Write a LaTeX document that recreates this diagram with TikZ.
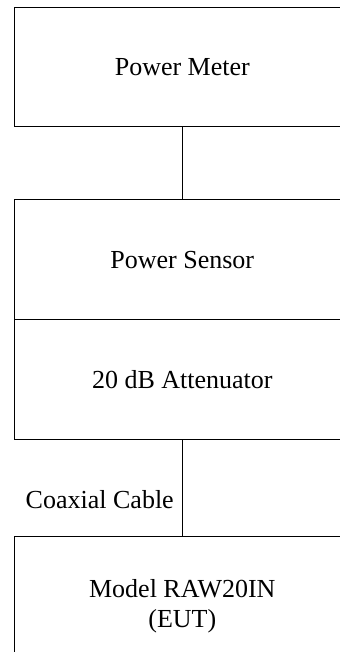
\documentclass[tikz,border=0pt]{standalone}
\usepackage{fontspec}
\setmainfont{Liberation Serif}

\begin{document}
\begin{tikzpicture}[x=1bp, y=-1bp,
    unit/.style={draw, line width=1.1bp, anchor=north west, minimum width=335.5bp,
                 inner sep=0pt, align=center, font=\fontsize{26bp}{30bp}\selectfont},
    cable/.style={line width=1.1bp},
    tag/.style={anchor=east, inner sep=0pt, font=\fontsize{26bp}{30bp}\selectfont}]
  \useasboundingbox (0,0) rectangle (339,652);

  % the measurement chain, from top to bottom; boxes run past the right and lower edge
  \node[unit, minimum height=119bp] (meter) at (14,7) {Power Meter};
  \node[unit, minimum height=120bp] (sensor) at (14,199.3) {Power Sensor};
  \node[unit, minimum height=120bp] (atten) at (14,319.3) {20 dB Attenuator};
  \node[unit, minimum height=140bp] (eut) at (14,535.7) {Model RAW20IN\\(EUT)};

  % connections
  \draw[cable] (meter.south) -- (sensor.north);
  \draw[cable] (atten.south) -- node[tag, pos=0.6, xshift=-8bp, yshift=-2bp] (coaxlabel) {Coaxial Cable} (eut.north);
\end{tikzpicture}
\end{document}
